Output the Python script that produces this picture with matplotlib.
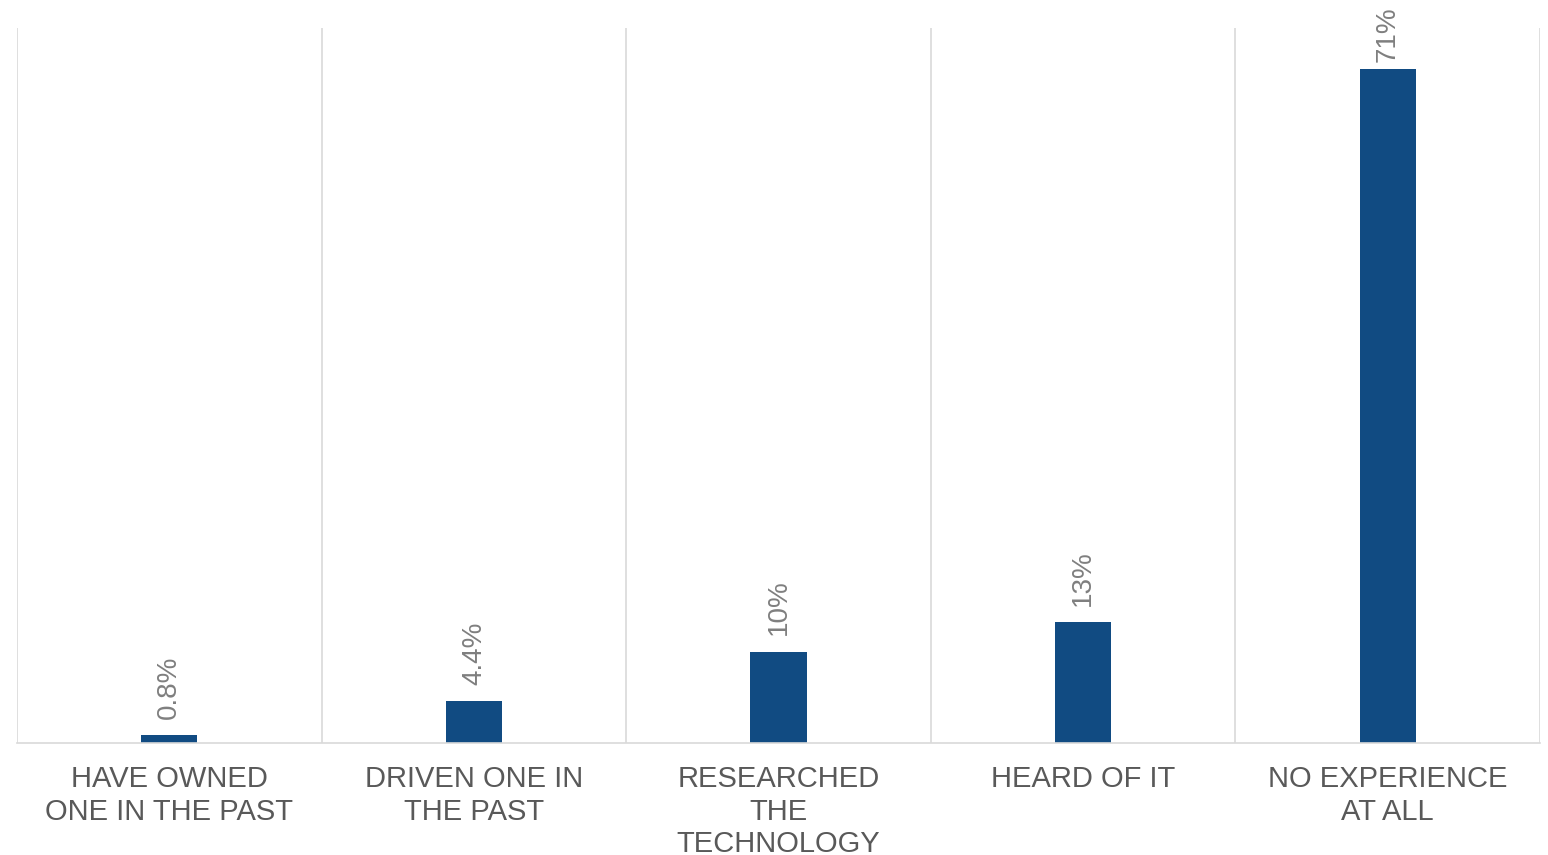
import matplotlib
matplotlib.use("Agg")
import matplotlib.pyplot as plt

categories = ["HAVE OWNED\nONE IN THE PAST", "DRIVEN ONE IN\nTHE PAST",
              "RESEARCHED\nTHE\nTECHNOLOGY", "HEARD OF IT", "NO EXPERIENCE\nAT ALL"]
values = [0.8, 4.4, 9.6, 12.7, 71.0]
value_labels = ["0.8%", "4.4%", "10%", "13%", "71%"]

BAR_COLOR = "#114b82"
GRID_COLOR = "#d9d9d9"


def main():
    plt.rcParams["font.family"] = ["Liberation Sans", "DejaVu Sans"]

    fig = plt.figure(figsize=(15.48, 8.55), dpi=100)
    ax = fig.add_axes([17 / 1548, 112 / 855, 1523 / 1548, 715 / 855])

    x = list(range(len(values)))
    bars = ax.bar(x, values, width=0.184, color=BAR_COLOR, zorder=3)

    ymax = 75.3
    for b, lab in zip(bars, value_labels):
        # label gets pushed closer to the bar when it runs near the top edge
        off = 12 if b.get_height() < 0.8 * ymax else 5
        ax.annotate(lab, (b.get_x() + b.get_width() / 2, b.get_height()),
                    xytext=(0, off), textcoords="offset points",
                    rotation=90, ha="center", va="bottom",
                    fontsize=20, color="#7f7f7f", annotation_clip=False)

    ax.set_xlim(-0.5, len(values) - 0.5)
    ax.set_ylim(0, ymax)

    # separators between categories
    for i in range(len(values) + 1):
        ax.axvline(i - 0.5, color=GRID_COLOR, lw=1.2, zorder=1)

    ax.set_xticks(x)
    ax.set_xticklabels(categories, fontsize=21, color="#595959", linespacing=1.2)
    ax.tick_params(axis="x", length=0, pad=16)
    ax.set_yticks([])

    for s in ["top", "left", "right"]:
        ax.spines[s].set_visible(False)
    ax.spines["bottom"].set_color(GRID_COLOR)
    ax.spines["bottom"].set_linewidth(1.2)
    ax.spines["bottom"].set_zorder(4)

    fig.savefig("out.png", dpi=100)


if __name__ == "__main__":
    main()
